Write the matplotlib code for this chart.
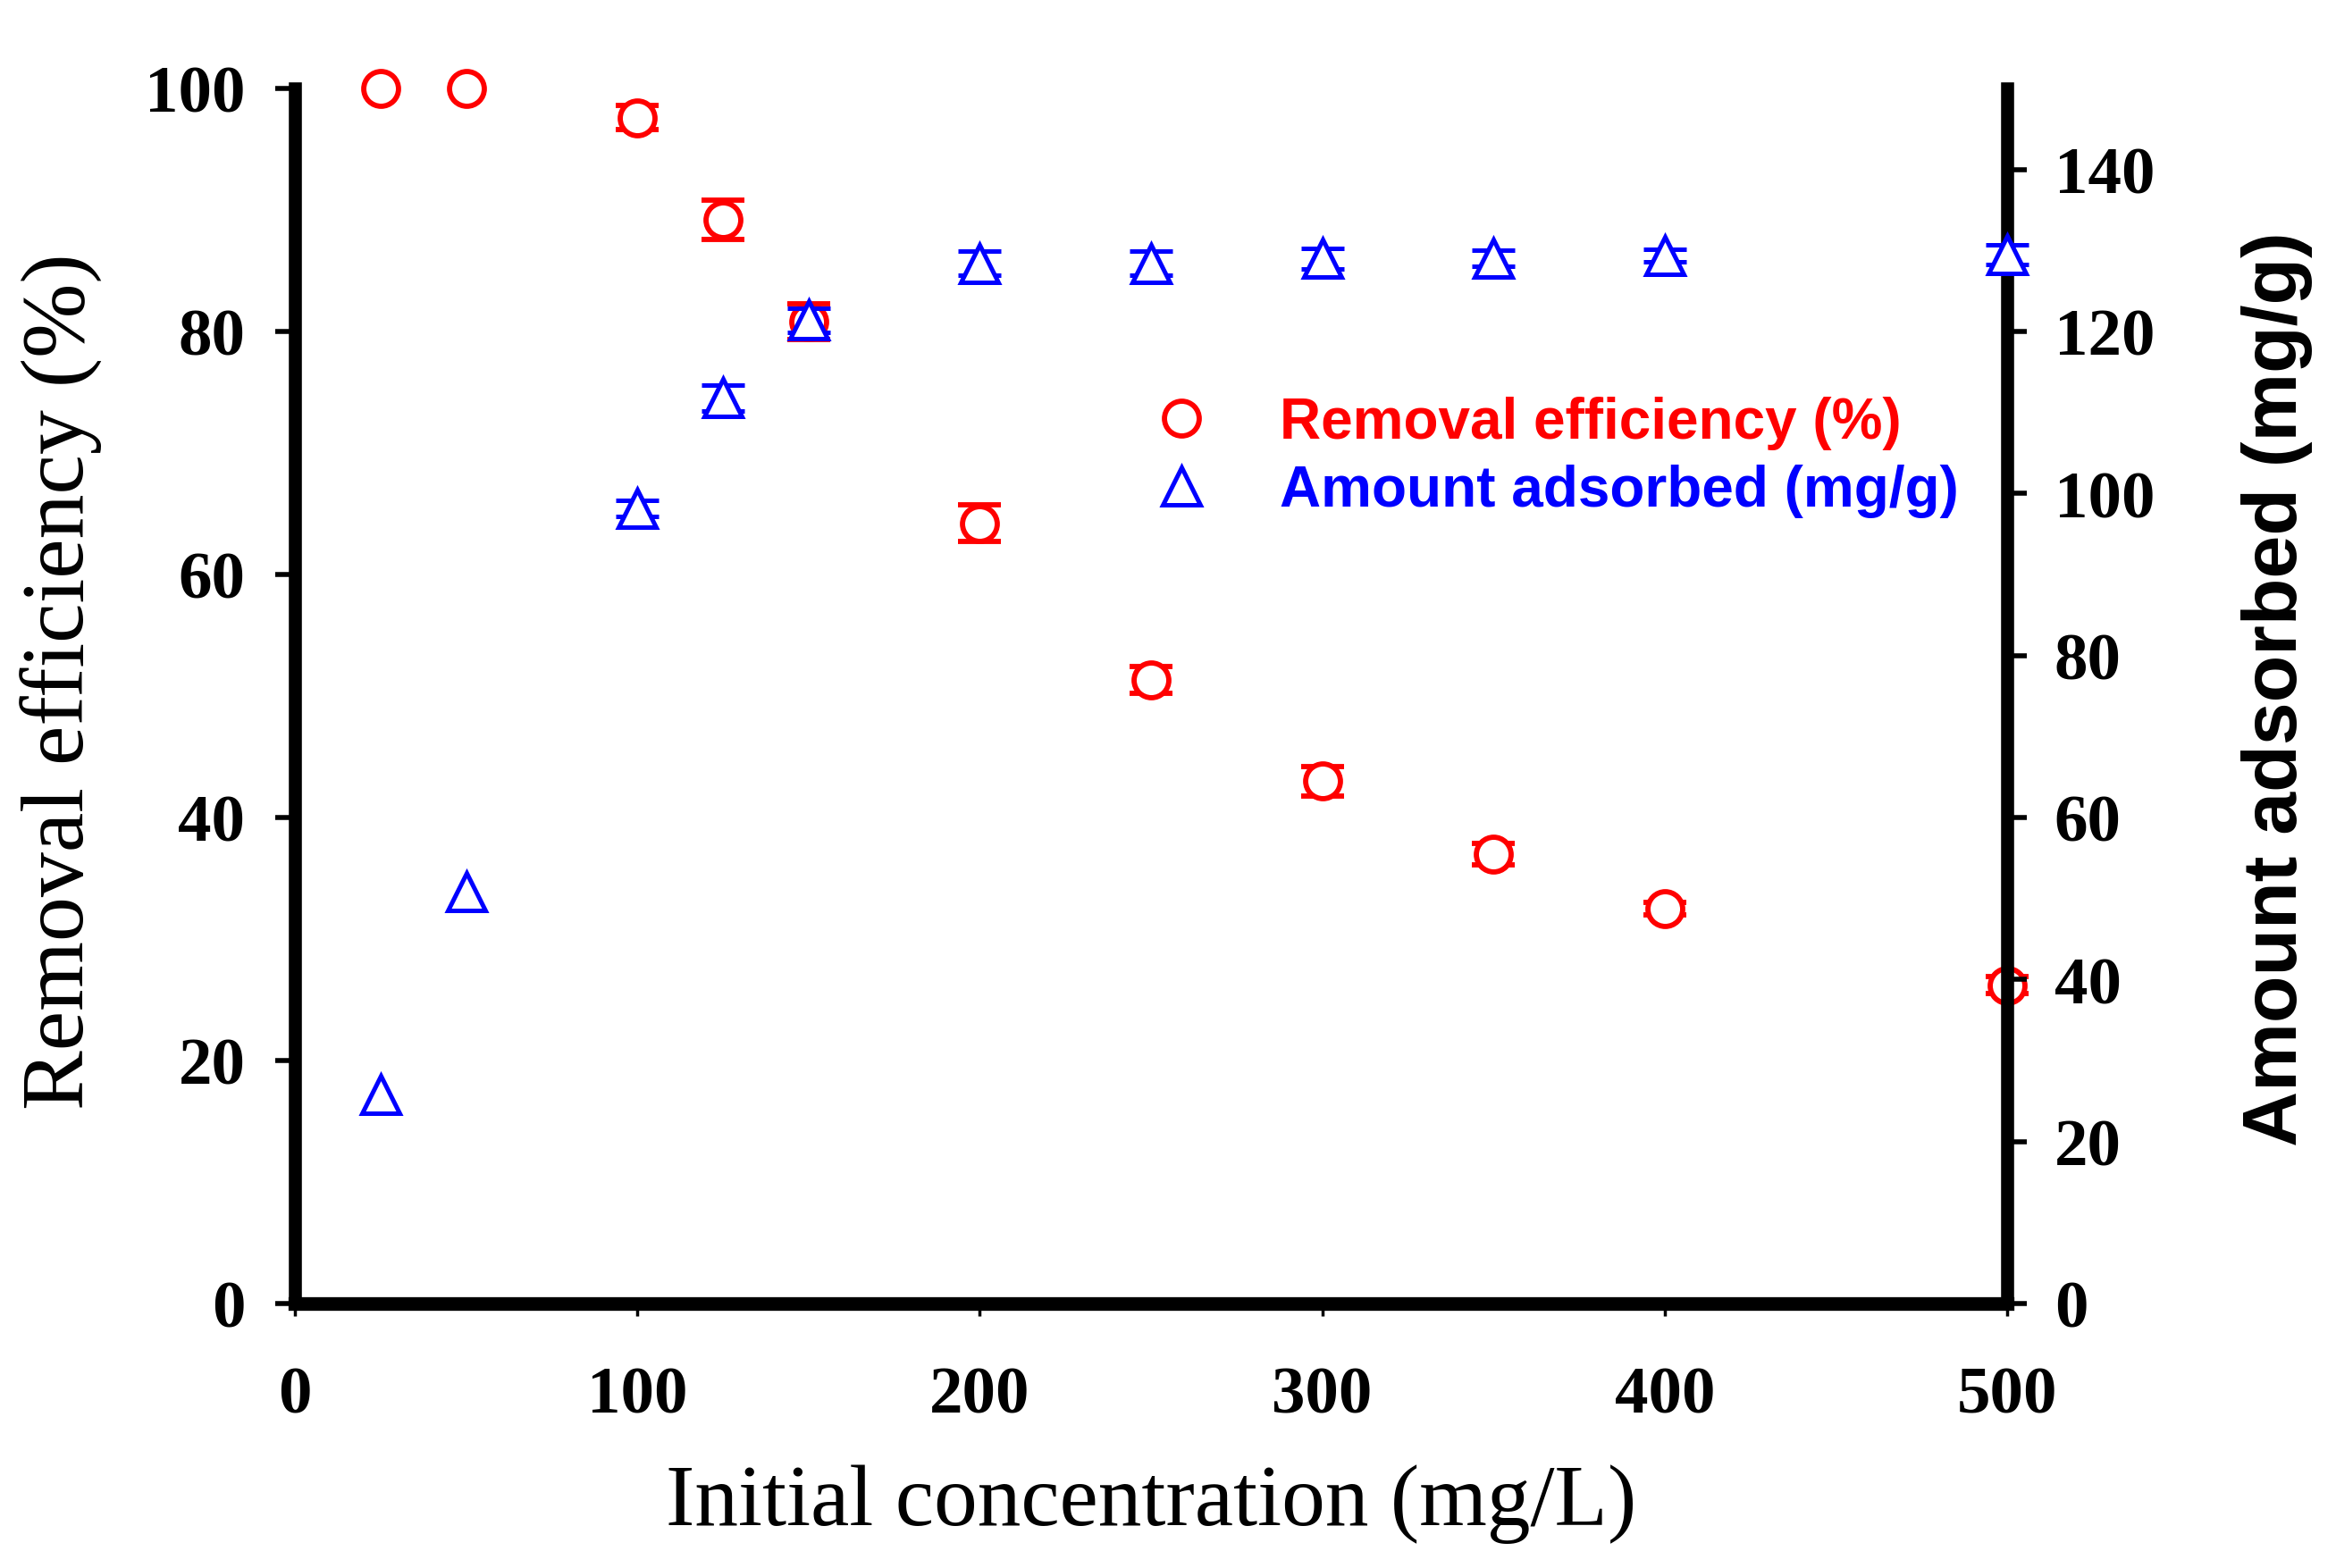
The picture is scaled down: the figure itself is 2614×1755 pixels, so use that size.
import matplotlib
matplotlib.use("Agg")
import matplotlib.pyplot as plt
import numpy as np

# ---- data ----
conc = [25, 50, 100, 125, 150, 200, 250, 300, 350, 400, 500]
removal = [100.0, 100.0, 97.6, 89.2, 80.8, 64.2, 51.3, 43.0, 37.0, 32.5, 26.2]
removal_err = [np.nan, np.nan, 1.0, 1.6, 1.45, 1.5, 1.1, 1.2, 0.9, 0.5, 0.7]
adsorbed = [25.8, 50.8, 98.2, 111.8, 121.4, 128.4, 128.4, 129.0, 129.0, 129.4, 129.5]
adsorbed_err = [np.nan, np.nan, 1.0, 1.6, 1.5, 1.5, 1.5, 1.3, 1.0, 0.8, 1.2]

x_ticks = [0, 100, 200, 300, 400, 500]
left_ticks = [0, 20, 40, 60, 80, 100]
right_ticks = [0, 20, 40, 60, 80, 100, 120, 140]

W, H, DPI = 2614, 1756, 100
fig = plt.figure(figsize=(W / DPI, H / DPI), dpi=DPI)
L, R, T, B = 330, 2246, 100, 1460
ax = fig.add_axes([L / W, 1 - B / H, (R - L) / W, (B - T) / H])
ax2 = ax.twinx()

serif = "Liberation Serif"
sans = "Liberation Sans"

e1 = ax.errorbar(conc, removal, yerr=removal_err, fmt='o', mfc='white', mec='red',
                 ms=28, mew=4.2, ecolor='red', elinewidth=3.0, capsize=17.5, capthick=3.8,
                 label="Removal efficiency (%)", zorder=3)
e2 = ax2.errorbar(conc, adsorbed, yerr=adsorbed_err, fmt='^', mfc='white', mec='blue',
                  ms=30, mew=3.6, ecolor='blue', elinewidth=3.0, capsize=17.5, capthick=3.8,
                  label="Amount adsorbed (mg/g)", zorder=3)
for cont in (e1, e2):
    for art in cont.get_children():
        art.set_clip_on(False)

ax.set_xlim(0, 500)
ax.set_ylim(0, 100)
ax2.set_ylim(0, 150)

for a in (ax, ax2):
    a.spines['top'].set_visible(False)
    for s in a.spines.values():
        s.set_color('black')
ax.spines['left'].set_linewidth(10.5)
ax.spines['bottom'].set_linewidth(11)
ax.spines['right'].set_visible(False)
ax2.spines['left'].set_visible(False)
ax2.spines['bottom'].set_visible(False)
ax2.spines['right'].set_linewidth(10.5)

ax.set_xticks(x_ticks)
ax.set_yticks(left_ticks)
ax2.set_yticks(right_ticks)

ax.tick_params(axis='x', direction='out', length=10, width=2.5, pad=40,
               labelsize=54)
ax.tick_params(axis='y', direction='out', length=16, width=4, pad=24,
               labelsize=54)
ax2.tick_params(axis='y', direction='out', length=16, width=4, pad=22,
                labelsize=54)
for lab in ax.get_xticklabels() + ax.get_yticklabels() + ax2.get_yticklabels():
    lab.set_fontfamily(serif)
    lab.set_fontweight('bold')

ax.set_xlabel("Initial concentration (mg/L)", fontfamily=serif, fontsize=70,
              labelpad=30)
ax.set_ylabel("Removal efficiency (%)", fontfamily=serif, fontsize=72)
ax.yaxis.set_label_coords(-0.112, 0.5125)
ax2.set_ylabel("Amount adsorbed (mg/g)", fontfamily=sans, fontweight='bold',
               fontsize=62)
ax2.yaxis.set_label_coords(1.1365, 0.5066)

leg = ax2.legend(handles=[e1[0], e2[0]], labels=["Removal efficiency (%)", "Amount adsorbed (mg/g)"],
                 loc='upper left', bbox_to_anchor=(1258 / W, 1 - 412 / H),
                 bbox_transform=fig.transFigure, frameon=False,
                 prop={'family': sans, 'weight': 'bold', 'size': 46},
                 handlelength=1.0, handletextpad=1.23, labelspacing=0.25,
                 borderpad=0, labelcolor=['red', 'blue'])

fig.savefig("out.png", dpi=DPI)
